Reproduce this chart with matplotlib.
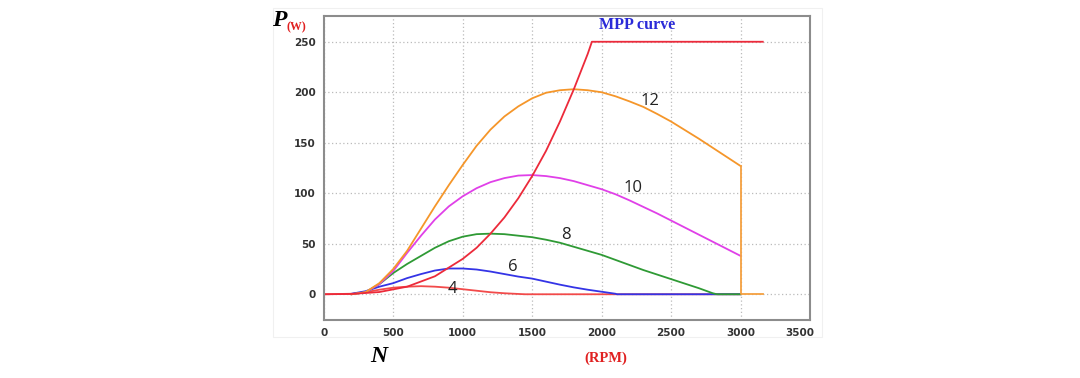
import matplotlib.pyplot as plt
from matplotlib.patches import Rectangle
from matplotlib.transforms import ScaledTranslation

# vitesse de rotation (RPM) et puissance (W)
n_grid = [200, 300, 400, 500, 600, 700, 800, 900, 1000, 1100, 1200, 1300, 1400, 1500,
          1600, 1700, 1800, 1900, 2000, 2100, 2200, 2300, 2400, 2500, 2600, 2700, 2800, 2900, 3000]

p12 = [0, 2, 11, 25, 43, 65, 87, 108, 128, 147, 163, 176, 186, 194,
       199.5, 202, 203, 202, 200, 196, 191, 185.5, 178.5, 171, 162.5, 154, 145, 136, 127]
p10 = [0, 2, 10, 23, 41, 58, 74, 87, 97, 105, 111, 115, 117.5, 118,
       117, 115, 112, 108, 104, 99, 93, 86.5, 80, 73, 66, 59, 52, 45, 38]

n8 = [200, 300, 400, 500, 600, 700, 800, 900, 1000, 1100, 1200, 1300, 1400, 1500, 1600, 1700,
      1800, 1900, 2000, 2100, 2200, 2300, 2400, 2500, 2600, 2700, 2800, 2830, 3000]
p8 = [0, 2, 10, 21, 30, 38, 46, 52.5, 57, 59.5, 60, 59.5, 58, 56.5, 54, 51,
      47, 43, 39, 34, 29, 24, 19.5, 15, 10.5, 6, 1, 0, 0]

n6 = [200, 300, 400, 500, 600, 700, 800, 900, 1000, 1100, 1200, 1300, 1400, 1500, 1600, 1700,
      1800, 1900, 2000, 2100, 2110, 3000]
p6 = [0.5, 3, 7.5, 11, 16, 20, 23.5, 25.5, 25.5, 24.5, 22.5, 20, 17.5, 15.5, 12.5, 9.5,
      6.8, 4.5, 2.5, 0.5, 0, 0]

n4 = [0, 200, 300, 400, 500, 600, 700, 800, 900, 1000, 1100, 1200, 1300, 1400, 1450, 3000]
p4 = [0, 0.5, 2, 4.5, 6.5, 7.5, 8, 7.5, 6.5, 5, 3.5, 2, 1, 0.3, 0, 0]

n_mpp = [0, 200, 400, 600, 800, 1000, 1100, 1200, 1300, 1400, 1500, 1600, 1700, 1800, 1900, 1930, 3160]
p_mpp = [0, 0.3, 2.2, 7.5, 17.8, 35, 46, 60, 76, 95, 117, 142, 171, 203, 238, 250, 250]

n_end = [3000, 3000, 3160]   # chute verticale a 3000 RPM
p_end = [127, 0, 0]

fig = plt.figure(figsize=(10.8, 3.78), dpi=100)
fig.patches.append(Rectangle((273 / 1080, 1 - 337 / 378), 549 / 1080, 329 / 378,
                             transform=fig.transFigure, fill=False, ec="#f0f0f0", lw=0.8))
ax = fig.add_axes([0.2998, 0.1534, 0.4502, 0.8043])

lw = 1.3
ax.plot(n4, p4, color="#f24a4a", lw=lw)
ax.plot(n6, p6, color="#3434e6", lw=lw)
ax.plot(n8, p8, color="#2f9a35", lw=lw)
ax.plot(n_grid, p10, color="#e040e8", lw=lw)
ax.plot(n_grid, p12, color="#f5962a", lw=lw)
ax.plot(n_end, p_end, color="#f5a040", lw=lw)
ax.plot(n_mpp, p_mpp, color="#ec2a3a", lw=lw)

# étiquettes des courbes (vitesse du vent)
for txt, x, y in [("12", 2347, 191), ("10", 2228, 105), ("8", 1743, 59), ("6", 1361, 27), ("4", 923, 5)]:
    ax.text(x, y, txt, fontsize=12, color="#222222", ha="center", va="center", family="Open Sans")
ax.text(2253, 267, "MPP curve", fontsize=11.5, color="#2a2ad8", fontweight="bold",
        family="Liberation Serif", ha="center", va="center")

ax.set_xlim(0, 3500)
ax.set_ylim(-25.5, 275.5)
ax.set_xticks(range(0, 3501, 500))
ax.set_yticks(range(0, 251, 50))
ax.grid(True, linestyle=(0, (1, 2)), color="#bbbbbb", lw=0.9)
ax.tick_params(length=0, labelsize=7.5, colors="#333333", pad=6)
for lab in ax.get_xticklabels() + ax.get_yticklabels():
    lab.set_fontweight("bold")
last = ax.get_xticklabels()[-1]
last.set_transform(last.get_transform() + ScaledTranslation(-0.1, 0, fig.dpi_scale_trans))
for s in ax.spines.values():
    s.set_color("#8c8c8c")
    s.set_linewidth(1.5)

fig.text(279 / 1080, 1 - 20 / 378, "P", fontsize=17, fontweight="bold", fontstyle="italic",
         family="Liberation Serif", ha="center", va="center")
fig.text(296 / 1080, 1 - 27 / 378, "(W)", fontsize=8.5, fontweight="bold", color="#e02020",
         family="Liberation Serif", ha="center", va="center")
fig.text(379 / 1080, 1 - 356 / 378, "N", fontsize=17, fontweight="bold", fontstyle="italic",
         family="Liberation Serif", ha="center", va="center")
fig.text(606 / 1080, 1 - 358 / 378, "(RPM)", fontsize=10.5, fontweight="bold", color="#e02020",
         family="Liberation Serif", ha="center", va="center")

fig.savefig("out.png", dpi=100)
